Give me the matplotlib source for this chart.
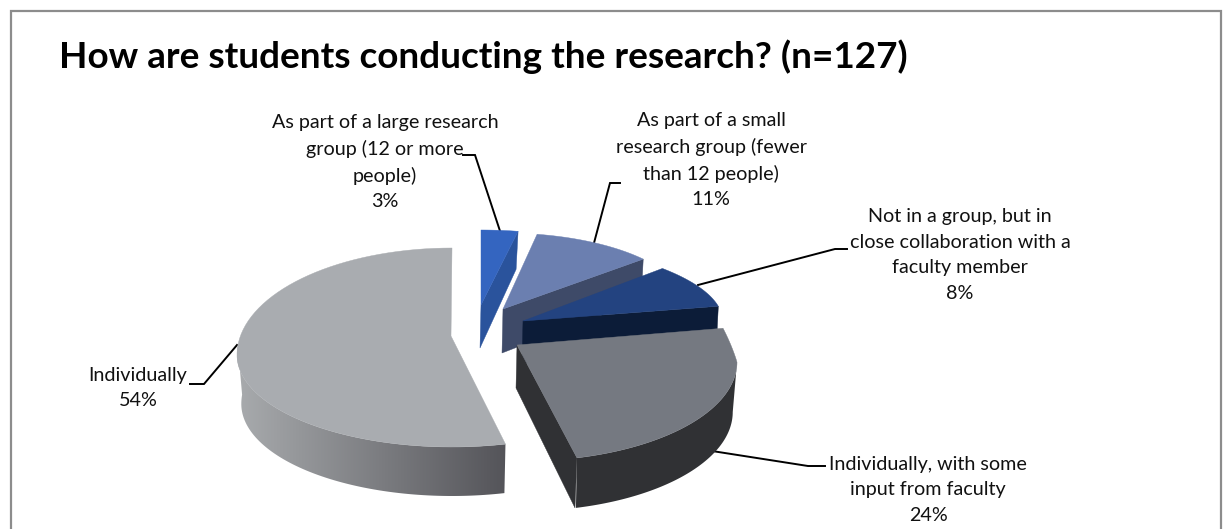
import numpy as np
import matplotlib
matplotlib.use("Agg")
import matplotlib.pyplot as plt
from matplotlib.patches import Polygon, Rectangle

categories = ["As part of a large research\ngroup (12 or more\npeople)",
              "As part of a small\nresearch group (fewer\nthan 12 people)",
              "Not in a group, but in\nclose collaboration with a\nfaculty member",
              "Individually, with some\ninput from faculty",
              "Individually"]
values = [3, 11, 8, 24, 54]
title = "How are students conducting the research? (n=127)"

top_colors = ["#3465C0", "#6B7FB0", "#234380", "#757981", "#A9ACB0"]
cut_colors = ["#2A539C", "#3E4A68", "#0C1C38", "#303134", None]
# per-slice projection: tip x,y / ellipse cx,cy,rx,ry back,ry front / rim depth, tip depth, back taper
proj = [
    (481, 305, 481, 305, 198, 75, 75, 38, 43, 0.0),
    (503, 309, 503, 305, 182, 72, 72, 40, 44, 0.0),
    (523, 321, 459, 322, 264, 84, 84, 40, 43, 0.0),
    (517, 345, 524, 362, 213, 180, 99, 50, 43, 0.26),
    (451, 336, 452, 355, 215, 107, 92, 49, 43, 0.0),
]
leaders = [
    ([463, 475, 500], [155, 155, 231]),
    ([620, 610, 594], [183, 183, 243]),
    ([847, 835, 698], [249, 249, 285]),
    ([190, 204, 237], [384, 384, 345]),
    ([825, 808, 712], [466, 466, 451]),
]
label_pos = [(385, 162), (711, 160), (960, 255), (928, 490), (138, 388)]
fam = "Lato"

fig = plt.figure(figsize=(12.24, 5.29), dpi=100)
ax = fig.add_axes([0, 0, 1, 1])
ax.set_xlim(0, 1224)
ax.set_ylim(529, 0)
ax.axis("off")
ax.add_patch(Rectangle((11, 11), 1210, 540, fc="white", ec="#8C8C8C", lw=1.6, zorder=0))


def rim(p, a, b, n=80):
    tx, ty, cx, cy, rx, ryb, ryf, d, td, k = p
    th = np.radians(np.linspace(a, b, n))
    c = np.cos(th)
    taper = 1 - k * np.clip(c, 0, None)
    return cx + rx * np.sin(th) * taper, cy - np.where(c > 0, ryb, ryf) * c


edges = np.cumsum([0] + values) / sum(values) * 360
for i in range(len(values)):
    a, b = edges[i], edges[i + 1]
    p = proj[i]
    tx, ty, cx, cy, rx, ryb, ryf, d, td, k = p
    z = 2 + i
    fa, fb = max(a, 90), min(b, 275)
    if fa < fb:
        xs, ys = rim(p, fa, fb)
        bx = cx + (xs - cx) * 0.98
        by = ys + d
        wall = np.column_stack([np.r_[xs, bx[::-1]], np.r_[ys, by[::-1]]])
        poly = Polygon(wall, closed=True, fc="none", ec="none", zorder=z)
        ax.add_patch(poly)
        if cut_colors[i] is None:
            grad = np.linspace(0, 1, 256)[None, :, None]
            c0, c1 = np.array([0.66, 0.67, 0.68]), np.array([0.33, 0.33, 0.35])
            img = c0 + (c1 - c0) * grad
            x0, x1 = wall[:, 0].min(), wall[:, 0].max()
            y0, y1 = wall[:, 1].min(), wall[:, 1].max()
            im = ax.imshow(img, extent=(x0, x1, y1, y0), aspect="auto", zorder=z,
                           interpolation="bilinear")
            im.set_clip_path(poly)
        else:
            poly.set_facecolor(cut_colors[i])
    if cut_colors[i] is not None:
        ex, ey = rim(p, b, b, 1)
        ax.add_patch(Polygon([(tx, ty), (ex[0], ey[0]), (ex[0] - 2, ey[0] + d), (tx - 1, ty + td)],
                             closed=True, fc=cut_colors[i], ec=cut_colors[i], lw=0.3, zorder=z))
    xs, ys = rim(p, a, b)
    ax.add_patch(Polygon(np.column_stack([np.r_[tx, xs], np.r_[ty, ys]]), closed=True,
                         fc=top_colors[i], ec=top_colors[i], lw=0.3, zorder=z + 0.5))

for lx, ly in leaders:
    ax.plot(lx, ly, color="black", lw=1.4, zorder=1, solid_joinstyle="miter")

for cat, v, (x, y) in zip(categories, values, label_pos):
    ax.text(x, y, f"{cat}\n{v}%", ha="center", va="center", family=fam, fontsize=14.2,
            linespacing=1.6, color="#111111", zorder=10)

ax.text(59, 57, title, ha="left", va="center", family=fam, fontweight="bold",
        fontsize=26.6, color="black", zorder=10)

fig.savefig("out.png", dpi=100)
